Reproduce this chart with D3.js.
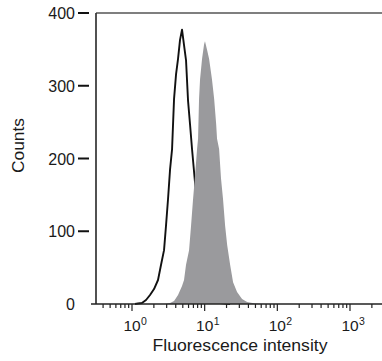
<!DOCTYPE html>
<html>
<head>
<meta charset="utf-8">
<script src="https://cdn.jsdelivr.net/npm/d3@7"></script>
<style>
  body { margin: 0; background: #fff; }
  svg text { font-family: "Liberation Sans", Arial, sans-serif; fill: #1a1a1a; }
</style>
</head>
<body>
<div id="chart"></div>
<script>
// unstained control (black outline)
var controlIntensity = [1.10, 1.21, 1.37, 1.56, 1.77, 2.01, 2.28, 2.51, 2.76, 2.94, 3.13, 3.34, 3.56, 3.79, 4.04, 4.30, 4.58, 4.88, 5.20, 5.54, 5.90, 6.30, 6.70, 7.38, 7.86, 8.64, 9.50, 10.8, 12.6, 16.3, 22.4];
var controlCounts    = [0, 0.7, 1.4, 5.5, 12.4, 20.6, 33, 54, 74, 108, 144, 185, 213, 282, 316, 337, 363, 377, 356, 335, 280, 246, 213, 166, 129, 88, 54, 26, 8, 1.4, 0];

// stained sample (grey filled)
var sampleIntensity = [2.85, 3.34, 3.79, 4.30, 4.88, 5.20, 5.54, 6.10, 6.50, 6.92, 7.38, 7.86, 8.11, 8.37, 8.64, 9.21, 9.82, 10.1, 10.8, 11.5, 12.6, 13.5, 14.4, 14.8, 15.8, 16.8, 17.9, 19.1, 20.4, 22.4, 24.6, 27.9, 32.7, 38.4, 49.4, 67.9];
var sampleCounts    = [0, 1.4, 4.1, 12.4, 24.7, 33, 54, 74, 108, 144, 177, 213, 227, 282, 309, 337, 357, 361, 349, 337, 309, 282, 247, 227, 213, 172, 144, 108, 81, 54, 30, 16.5, 7, 2.7, 0.7, 0];

var yTicks = [0, 100, 200, 300, 400];
var decades = [0, 1, 2, 3];
var xLabel = "Fluorescence intensity";
var yLabel = "Counts";

var W = 382, H = 361;
var plotLeft = 96, plotRight = 382, plotTop = 13, plotBottom = 304;

var svg = d3.select("#chart").append("svg")
    .attr("width", W)
    .attr("height", H);

var x = d3.scaleLog().domain([1, 1000]).range([132, 350]);
var y = d3.scaleLinear().domain([0, 400]).range([plotBottom, plotTop]);

var control = controlIntensity.map(function(v, i) { return {v: v, c: controlCounts[i]}; });
var sample = sampleIntensity.map(function(v, i) { return {v: v, c: sampleCounts[i]}; });

// control line first, the grey fill covers it where they overlap
svg.append("path")
    .datum(control)
    .attr("d", d3.line()
      .x(function(d) { return x(d.v); })
      .y(function(d) { return y(d.c); }))
    .attr("fill", "none")
    .attr("stroke", "#111")
    .attr("stroke-width", 1.9)
    .attr("stroke-linejoin", "round");

svg.append("path")
    .datum(sample)
    .attr("d", d3.area()
      .x(function(d) { return x(d.v); })
      .y0(y(0))
      .y1(function(d) { return y(d.c); }))
    .attr("fill", "#9a9a9d");

// frame: top line and left axis
svg.append("line")
    .attr("x1", plotLeft).attr("x2", plotRight)
    .attr("y1", plotTop).attr("y2", plotTop)
    .attr("stroke", "#555").attr("stroke-width", 1.3);
svg.append("line")
    .attr("x1", plotLeft).attr("x2", plotLeft)
    .attr("y1", plotTop).attr("y2", plotBottom)
    .attr("stroke", "#333").attr("stroke-width", 1.7);
svg.append("line")
    .attr("x1", 91).attr("x2", plotRight)
    .attr("y1", plotBottom).attr("y2", plotBottom)
    .attr("stroke", "#222").attr("stroke-width", 1.6);

// y ticks (detached from the axis)
var yg = svg.append("g");
yg.selectAll("line")
  .data(yTicks.filter(function(d) { return d > 0; }))
  .enter().append("line")
    .attr("x1", 78).attr("x2", 89)
    .attr("y1", function(d) { return y(d); })
    .attr("y2", function(d) { return y(d); })
    .attr("stroke", "#111").attr("stroke-width", 2);
yg.selectAll("text")
  .data(yTicks)
  .enter().append("text")
    .attr("x", 75)
    .attr("y", function(d) { return y(d) + 6; })
    .attr("text-anchor", "end")
    .style("font-size", "16px")
    .text(function(d) { return d; });

// x ticks: log minor + major
var xt = [];
[-1, 0, 1, 2, 3].forEach(function(e) {
  for (var m = 1; m < 10; m++) {
    var v = m * Math.pow(10, e);
    if (x(v) > plotLeft + 2 && x(v) < plotRight) xt.push({v: v, major: m === 1});
  }
});
svg.append("g").selectAll("line")
  .data(xt)
  .enter().append("line")
    .attr("x1", function(d) { return x(d.v); })
    .attr("x2", function(d) { return x(d.v); })
    .attr("y1", plotBottom)
    .attr("y2", function(d) { return d.major ? plotBottom + 7 : plotBottom + 4; })
    .attr("stroke", "#222").attr("stroke-width", 1.2);

var xl = svg.append("g").selectAll("g")
  .data(decades)
  .enter().append("g");
xl.append("text")
    .attr("x", function(d) { return x(Math.pow(10, d)); })
    .attr("y", 331)
    .attr("text-anchor", "middle")
    .style("font-size", "15.5px")
    .text("10");
xl.append("text")
    .attr("x", function(d) { return x(Math.pow(10, d)) + 9; })
    .attr("y", 325)
    .style("font-size", "10.5px")
    .text(function(d) { return d; });

svg.append("text")
    .attr("x", 240)
    .attr("y", 351)
    .attr("text-anchor", "middle")
    .attr("textLength", 175)
    .attr("lengthAdjust", "spacingAndGlyphs")
    .style("font-size", "16.5px")
    .text(xLabel);

svg.append("text")
    .attr("transform", "translate(24,145.5) rotate(-90)")
    .attr("text-anchor", "middle")
    .attr("textLength", 55)
    .attr("lengthAdjust", "spacingAndGlyphs")
    .style("font-size", "16.5px")
    .text(yLabel);
</script>
</body>
</html>
